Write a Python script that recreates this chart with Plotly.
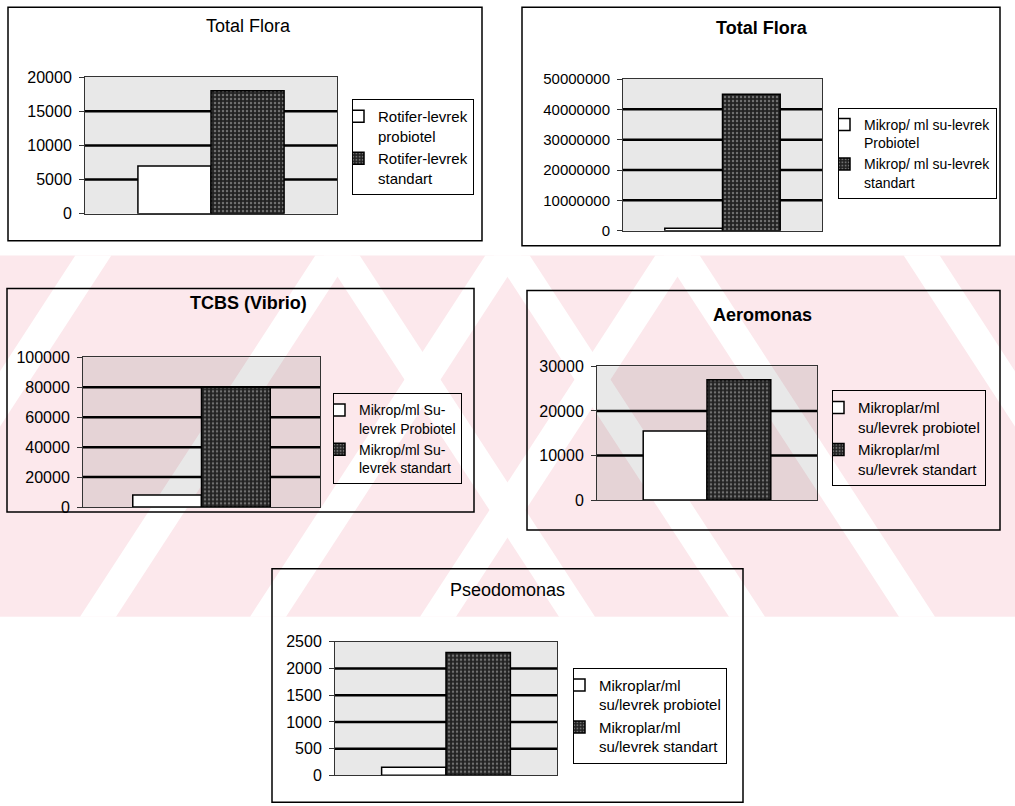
import plotly.graph_objects as go

# ---------------- data ----------------
titles = ["Total Flora", "Total Flora", "TCBS (Vibrio)", "Aeromonas", "Pseodomonas"]
title_bold = [False, True, True, True, False]
category = ["Levrek"]
probiotel_values = [7000, 800000, 8000, 15500, 150]
standart_values = [18000, 45000000, 80000, 27000, 2300]
probiotel_names = [
    "Rotifer-levrek<br>probiotel",
    "Mikrop/ ml su-levrek<br>Probiotel",
    "Mikrop/ml Su-<br>levrek Probiotel",
    "Mikroplar/ml<br>su/levrek probiotel",
    "Mikroplar/ml<br>su/levrek probiotel",
]
standart_names = [
    "Rotifer-levrek<br>standart",
    "Mikrop/ ml su-levrek<br>standart",
    "Mikrop/ml Su-<br>levrek standart",
    "Mikroplar/ml<br>su/levrek standart",
    "Mikroplar/ml<br>su/levrek standart",
]
y_max = [20000, 50000000, 100000, 30000, 2500]
y_step = [5000, 10000000, 20000, 10000, 500]

# ---------------- layout geometry (target pixels on the photographed page) ----------------
W, H = 1015, 806
V_OFF, V_SCALE = 7.8, 0.98   # observed vertical offset/scale of the photographed page

def px(x):
    return x / W

def py(y):
    return 1 - ((y - V_OFF) / V_SCALE) / H

boxes = [(8, 6, 482, 240), (522, 6, 1000, 245), (7, 288, 474, 512),
         (527, 290, 1000, 530), (272, 569, 743, 803)]
plots = [(85, 76, 337, 213), (623, 78, 822, 230), (83, 357, 320, 507),
         (597, 366, 817, 500), (335, 642, 557, 776)]
title_pos = [(248, 25), (762, 27), (248, 303), (762, 315), (507, 590)]
legend_pos = [(352, 98), (838, 107), (333, 393), (832, 390), (573, 668)]
legend_font = [15, 14, 14, 15, 15]
tick_font = [16, 15, 16, 16, 16]

FONT = "Arial, Liberation Sans, sans-serif"

fig = go.Figure()
shapes = []
annotations = []

# ---------------- watermark (pink band with diagonal white stripes) ----------------
PINK = "#fce8ec"
band_top, band_bot = 255, 617
shapes.append(dict(type="rect", xref="paper", yref="paper", layer="below",
                   x0=0, x1=1, y0=py(band_bot), y1=py(band_top),
                   fillcolor=PINK, line=dict(width=0)))
slant = 0.65 * (band_bot - band_top)
sw = 36

def stripe(xb, direction):
    xt = xb + direction * slant
    pts = [(xb, band_bot), (xb + sw, band_bot), (xt + sw, band_top), (xt, band_top)]
    d = "M " + " L ".join(f"{px(a):.5f},{py(b):.5f}" for a, b in pts) + " Z"
    return dict(type="path", xref="paper", yref="paper", layer="below",
                path=d, fillcolor="white", line=dict(width=0))

for xb in [-160, 80, 250, 420]:
    shapes.append(stripe(xb, +1))
for xb in [1015 - x - sw for x in [-160, 80, 250, 420]]:
    shapes.append(stripe(xb, -1))

# ---------------- charts ----------------
for i in range(5):
    n = "" if i == 0 else str(i + 1)
    xa, ya = "x" + n, "y" + n
    lg = "legend" + n
    bx0, by0, bx1, by1 = boxes[i]
    x0, y0, x1, y1 = plots[i]

    fig.add_trace(go.Bar(
        x=category, y=[probiotel_values[i]], name=probiotel_names[i],
        xaxis=xa, yaxis=ya, legend=lg,
        marker=dict(color="white", line=dict(color="black", width=1.5)),
        hoverinfo="y"))
    fig.add_trace(go.Bar(
        x=category, y=[standart_values[i]], name=standart_names[i],
        xaxis=xa, yaxis=ya, legend=lg,
        marker=dict(color="#222222",
                    pattern=dict(shape=".", fgcolor="#bdbdbd", bgcolor="#222222",
                                 size=4, solidity=0.3, fillmode="overlay"),
                    line=dict(color="black", width=1.5)),
        hoverinfo="y"))

    fig.update_layout({
        ("xaxis" + n): dict(domain=[px(x0), px(x1)], anchor=ya, type="category",
                            showticklabels=False, ticks="", showgrid=False,
                            showline=True, linecolor="#333", linewidth=1, mirror=True,
                            fixedrange=True),
        ("yaxis" + n): dict(domain=[py(y1), py(y0)], anchor=xa,
                            range=[0, y_max[i]], tick0=0, dtick=y_step[i],
                            tickformat="d", showgrid=False, zeroline=False,
                            showline=True, linecolor="#333", linewidth=1, mirror=True,
                            ticks="outside", ticklen=5, tickcolor="#333",
                            ticklabelstandoff=4,
                            tickfont=dict(family=FONT, size=tick_font[i], color="black"),
                            fixedrange=True),
        lg: dict(x=px(legend_pos[i][0]), y=py(legend_pos[i][1]),
                 xanchor="left", yanchor="top", valign="top",
                 bordercolor="black", borderwidth=1, bgcolor="rgba(255,255,255,0)",
                 font=dict(family=FONT, size=legend_font[i], color="black"),
                 indentation=-15, itemwidth=30, traceorder="normal",
                 tracegroupgap=0),
    })

    # stippled plot background (semi-transparent so the watermark shows through)
    shapes.append(dict(type="rect", xref=xa + " domain", yref=ya + " domain", layer="below",
                       x0=0, x1=1, y0=0, y1=1, fillcolor="rgba(0,0,0,0.09)",
                       line=dict(width=0)))
    # thick gridlines between bottom and top
    v = y_step[i]
    while v < y_max[i]:
        shapes.append(dict(type="line", xref=xa + " domain", yref=ya, layer="below",
                           x0=0, x1=1, y0=v, y1=v, line=dict(color="black", width=2.5)))
        v += y_step[i]

    # chart frame
    shapes.append(dict(type="rect", xref="paper", yref="paper",
                       x0=px(bx0), x1=px(bx1), y0=py(by1), y1=py(by0),
                       line=dict(color="black", width=1.5), fillcolor="rgba(0,0,0,0)"))

    t = titles[i]
    if title_bold[i]:
        t = "<b>" + t + "</b>"
    annotations.append(dict(text=t, x=px(title_pos[i][0]), y=py(title_pos[i][1]),
                            xref="paper", yref="paper", xanchor="center",
                            yanchor="middle", showarrow=False,
                            font=dict(family=FONT, size=18, color="black")))

fig.update_layout(
    width=W, height=H, margin=dict(l=0, r=0, t=0, b=0),
    paper_bgcolor="white", plot_bgcolor="rgba(0,0,0,0)",
    barmode="group", bargap=0.42, bargroupgap=0,
    shapes=shapes, annotations=annotations,
    font=dict(family=FONT, color="black"),
)

fig.write_html("out.html")
